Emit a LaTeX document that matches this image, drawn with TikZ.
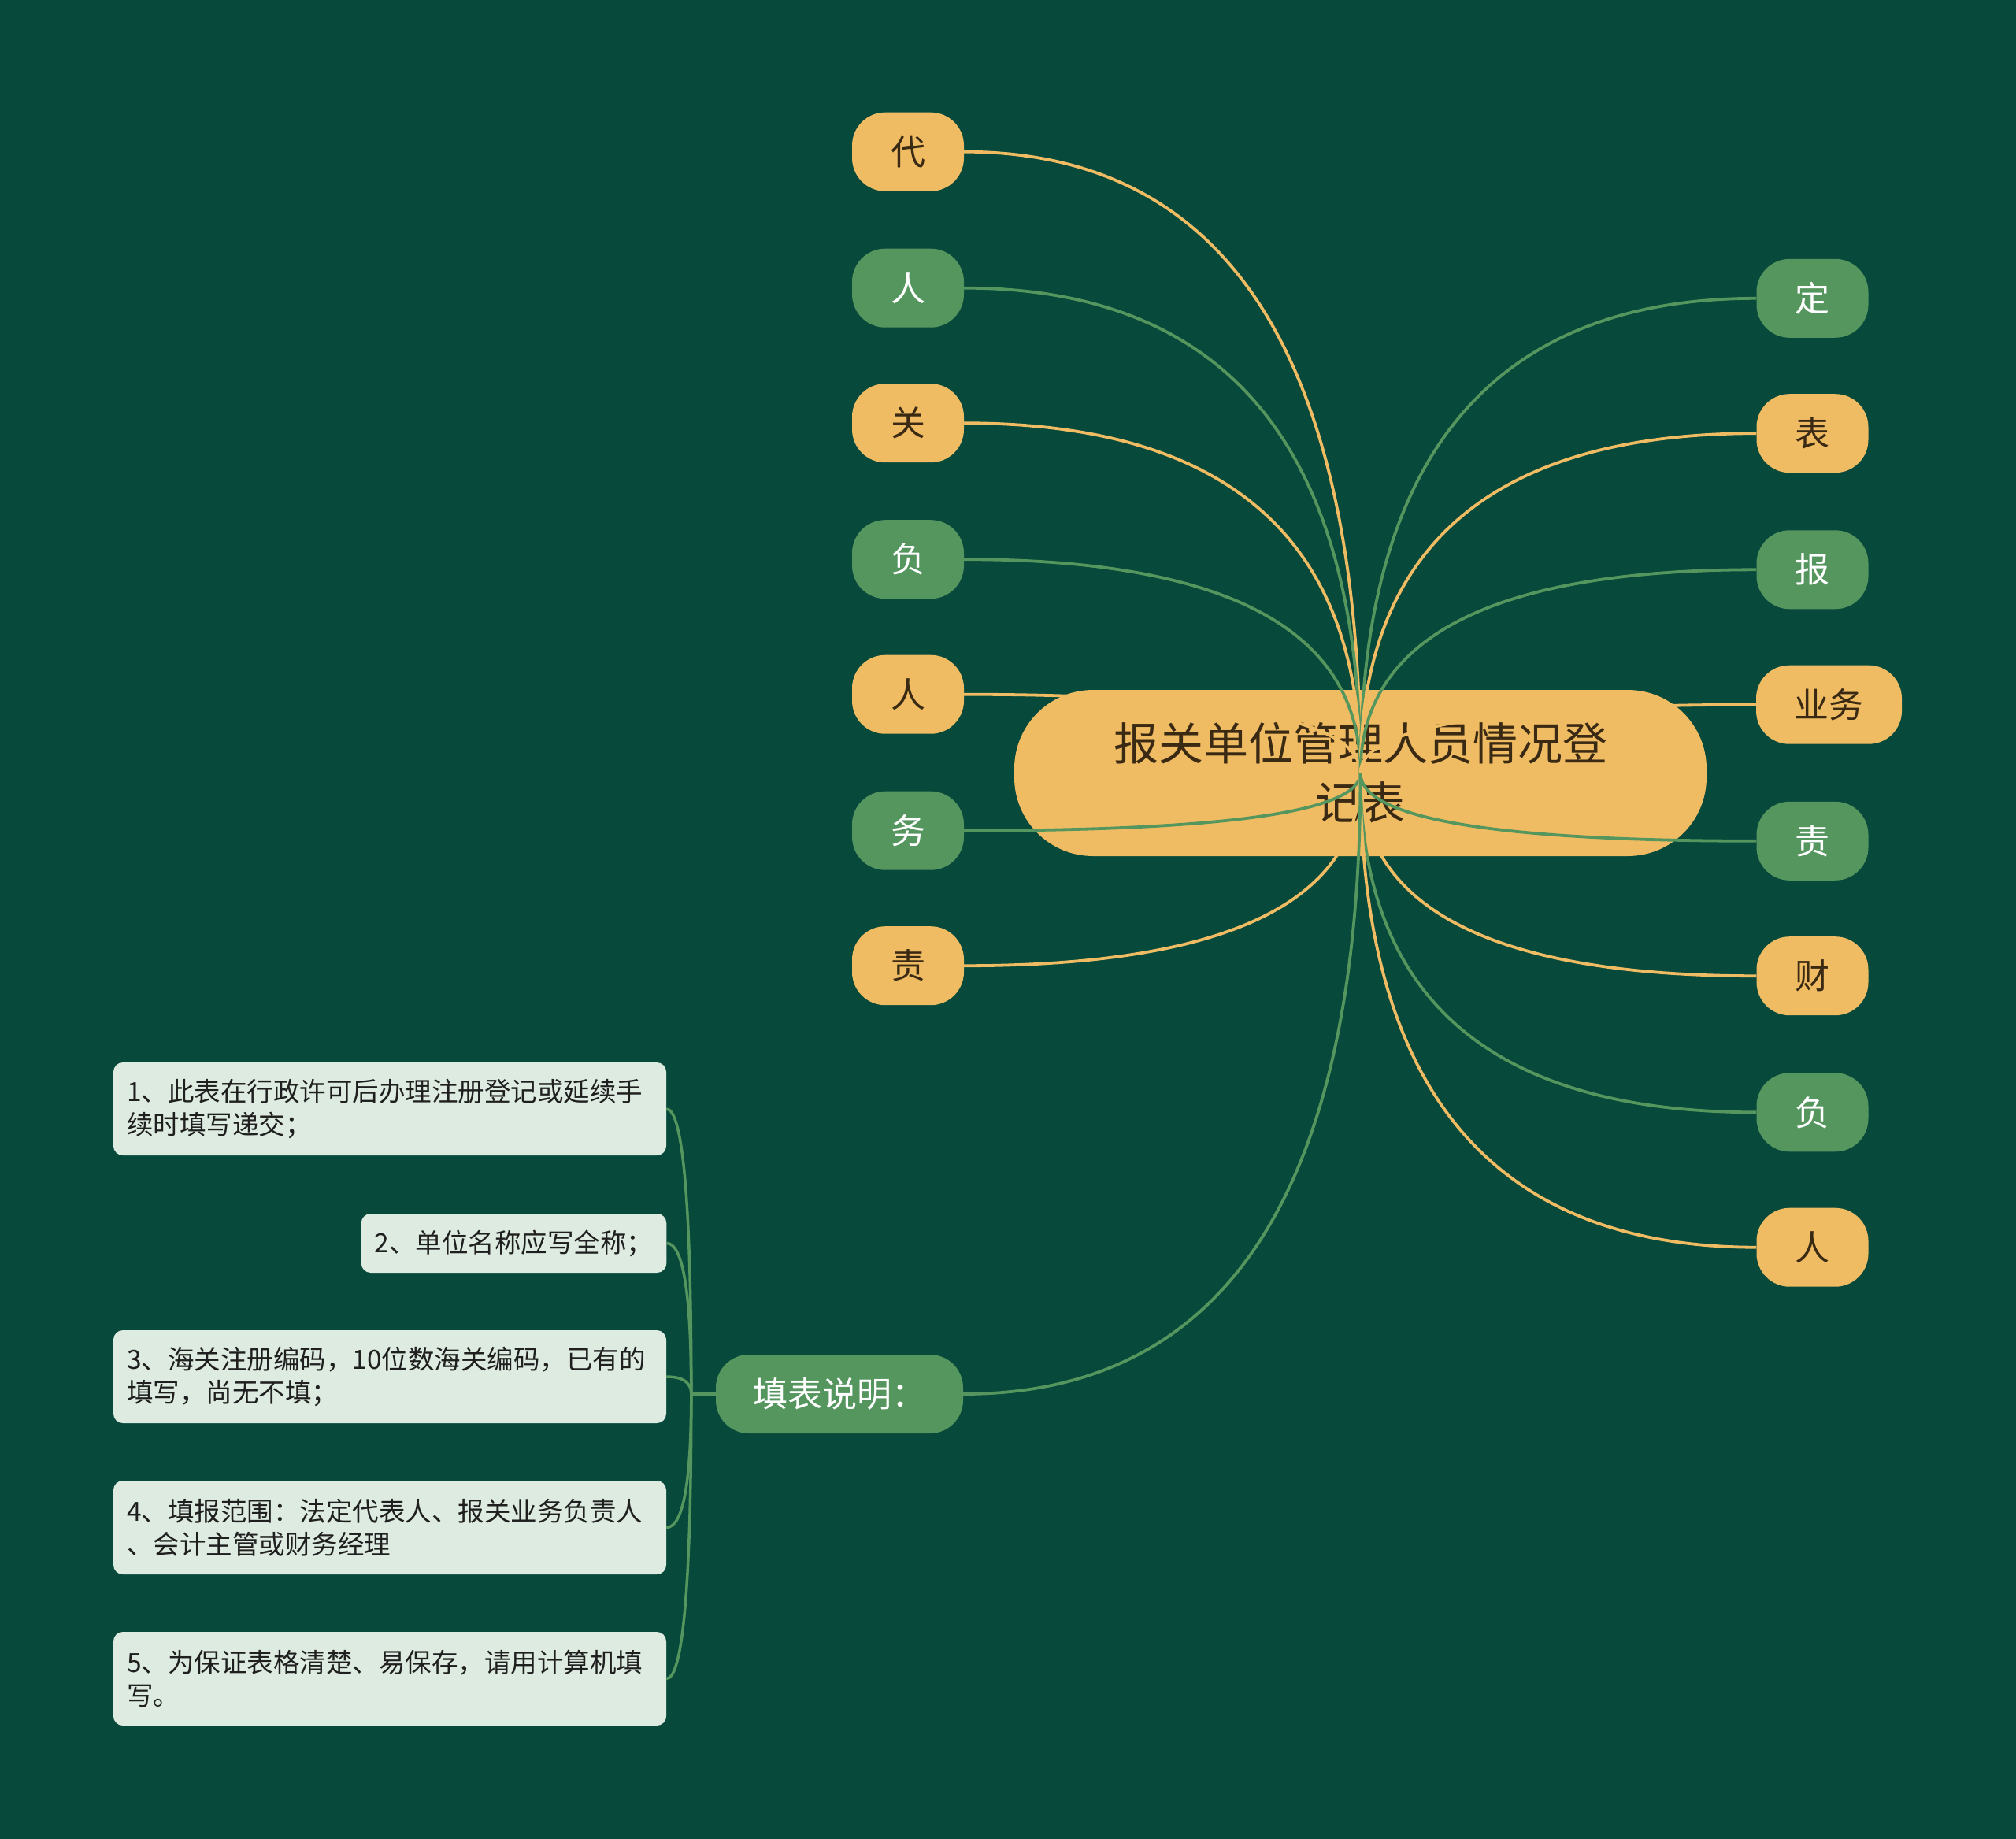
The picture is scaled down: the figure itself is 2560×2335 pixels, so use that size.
\documentclass[tikz,border=0pt]{standalone}
\usepackage{fontspec}
\setmainfont{Noto Sans CJK SC}
\usetikzlibrary{calc}
\definecolor{bg}{HTML}{07493A}
\definecolor{org}{HTML}{F0BC63}
\definecolor{grn}{HTML}{55965F}
\definecolor{leafc}{HTML}{DDEBE0}
\definecolor{dtxt}{HTML}{3A2A14}
\definecolor{ltxt}{HTML}{1F1F1F}
\tikzset{
  pill/.style={minimum width=142pt, minimum height=100pt, rounded corners=42pt, inner sep=0pt, font=\fontsize{44}{50}\selectfont},
  onode/.style={pill, fill=org, text=dtxt},
  gnode/.style={pill, fill=grn, text=white},
  leafbox/.style={fill=leafc, text=ltxt, rounded corners=12pt, inner xsep=17pt, inner ysep=0pt, align=left, font=\fontsize{33.5}{42.5}\selectfont},
  oline/.style={draw=org, line width=3.8pt},
  gline/.style={draw=grn, line width=3.8pt},
  leafline/.style={draw=grn, line width=3.5pt}
}
% quadratic curve (as cubic) from #2, control at (x of #2, y of #3), to #3
\newcommand{\qlink}[3]{\draw[#1] (#2) .. controls ($(#2)!0.6667!(#2|-#3)$) and ($(#3)!0.6667!(#2|-#3)$) .. (#3);}
\begin{document}
\begin{tikzpicture}[x=1pt,y=-1pt]
\fill[bg] (0,0) rectangle (2560,2335);
\useasboundingbox (0,0) rectangle (2560,2335);
% central node
\node[fill=org, text=dtxt, minimum width=879pt, minimum height=211pt, rounded corners=100pt, align=center, inner sep=0pt, font=\fontsize{57}{75}\selectfont] (c) at (1727.5,981.5) {报关单位管理人员情况登\\记表};
% child nodes
\node[onode] (l1) at (1153,192.7) {代};
\node[gnode] (l2) at (1153,365.7) {人};
\node[onode] (l3) at (1153,537.2) {关};
\node[gnode] (l4) at (1153,710.2) {负};
\node[onode] (l5) at (1153,881.7) {人};
\node[gnode] (l6) at (1153,1054.7) {务};
\node[onode] (l7) at (1153,1226.2) {责};
\node[gnode] (r1) at (2301.5,378.8) {定};
\node[onode] (r2) at (2301.5,550.2) {表};
\node[gnode] (r3) at (2301.5,723.3) {报};
\node[onode, minimum width=185pt] (r4) at (2322.5,894.7) {业务};
\node[gnode] (r5) at (2301.5,1067.8) {责};
\node[onode] (r6) at (2301.5,1239.2) {财};
\node[gnode] (r7) at (2301.5,1412.3) {负};
\node[onode] (r8) at (2301.5,1583.7) {人};
\node[gnode, minimum width=314pt] (fs) at (1066,1770) {填表说明：};
% connectors from center
\qlink{oline}{c.center}{l1.east}
\qlink{gline}{c.center}{l2.east}
\qlink{oline}{c.center}{l3.east}
\qlink{gline}{c.center}{l4.east}
\qlink{oline}{c.center}{l5.east}
\qlink{gline}{c.center}{l6.east}
\qlink{oline}{c.center}{l7.east}
\qlink{gline}{c.center}{r1.west}
\qlink{oline}{c.center}{r2.west}
\qlink{gline}{c.center}{r3.west}
\qlink{oline}{c.center}{r4.west}
\qlink{gline}{c.center}{r5.west}
\qlink{oline}{c.center}{r6.west}
\qlink{gline}{c.center}{r7.west}
\qlink{oline}{c.center}{r8.west}
\qlink{gline}{c.center}{fs.east}
% leaf boxes
\node[leafbox, text width=668pt, minimum height=118pt] (b1) at (495,1408) {1、此表在行政许可后办理注册登记或延续手\\续时填写递交；};
\node[leafbox, minimum width=387pt, minimum height=75pt] (b2) at (652.5,1578.5) {2、单位名称应写全称；};
\node[leafbox, text width=668pt, minimum height=118pt] (b3) at (495,1748) {3、海关注册编码，10位数海关编码，已有的\\填写，尚无不填；};
\node[leafbox, text width=668pt, minimum height=119pt] (b4) at (495,1939.5) {4、填报范围：法定代表人、报关业务负责人\\、会计主管或财务经理};
\node[leafbox, text width=668pt, minimum height=119pt] (b5) at (495,2131.5) {5、为保证表格清楚、易保存，请用计算机填\\写。};
% leaf connectors
\coordinate (j) at ($(fs.west)+(-31,0)$);
\draw[leafline] (fs.west) -- (j);
\qlink{leafline}{j}{b1.east}
\qlink{leafline}{j}{b2.east}
\qlink{leafline}{j}{b3.east}
\qlink{leafline}{j}{b4.east}
\qlink{leafline}{j}{b5.east}
\end{tikzpicture}
\end{document}
